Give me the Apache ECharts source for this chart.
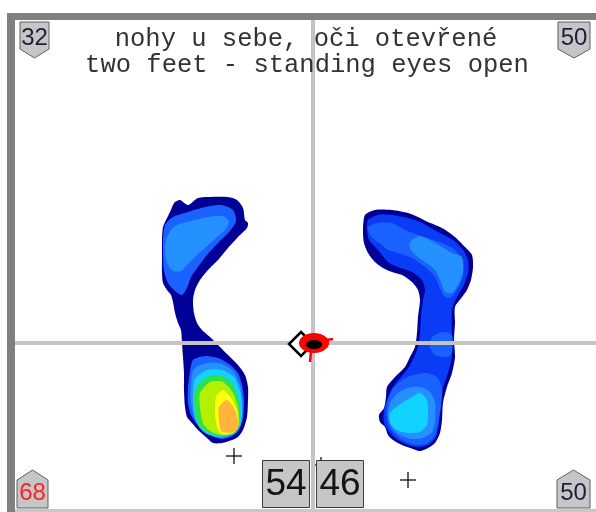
<!DOCTYPE html>
<html>
<head>
<meta charset="utf-8">
<script src="https://cdn.jsdelivr.net/npm/echarts@6/dist/echarts.min.js"></script>
<style>
html,body{margin:0;padding:0;background:#fff;}
#chart{width:596px;height:512px;}
</style>
</head>
<body>
<div id="chart"></div>
<script>
// Plate coordinates: origin at the plate centre, x to the right, y forward.

// Pressure contour levels, low to high
const levelColors = ['#000096', '#0a3cf5', '#1a62ff', '#2590ff', '#12d2ff', '#2ee04a', '#b4f000', '#ffff14', '#ffb43c'];

// Left foot contours
const leftOuter = [[-138,141],[-133,143],[-125,138],[-115,145],[-105,146],[-85,146],[-76,143],[-70,135],[-68,123],[-65,120],[-66,115],[-75,106],[-85,95],[-95,83],[-105,73],[-113,63],[-118,53],[-120,43],[-119,30],[-116,20],[-111,13],[-103,6],[-95,-2],[-85,-12],[-75,-22],[-68,-32],[-65,-44],[-65,-57],[-66,-74],[-70,-87],[-75,-94],[-81,-97],[-91,-100],[-100,-100],[-106,-95],[-115,-87],[-121,-80],[-126,-74],[-128,-64],[-129,-47],[-129,-30],[-130,-14],[-131,0],[-132,13],[-135,20],[-138,30],[-140,41],[-142,48],[-146,53],[-150,60],[-151,70],[-151,86],[-151,103],[-150,116],[-146,125],[-143,131],[-140,138]];
const leftFore3 = [[-148,118],[-140,126],[-125,131],[-108,136],[-92,138],[-80,133],[-77,122],[-83,112],[-95,100],[-106,88],[-115,76],[-122,66],[-126,55],[-131,48],[-138,52],[-145,60],[-149,72],[-150,88],[-150,104]];
const leftFore4 = [[-146,106],[-138,117],[-122,122],[-105,126],[-90,127],[-84,121],[-88,113],[-98,104],[-108,95],[-118,86],[-126,78],[-132,72],[-140,72],[-146,80],[-148,95]];
const leftHeel3 = [[-120,-17],[-108,-13],[-95,-15],[-84,-21],[-75,-30],[-71,-42],[-69,-57],[-70,-75],[-74,-87],[-81,-93],[-91,-96],[-101,-93],[-110,-87],[-117,-80],[-122,-72],[-125,-60],[-125,-44],[-123,-29]];
const leftHeel4 = [[-119,-26],[-106,-20],[-91,-21],[-80,-28],[-73,-42],[-70,-60],[-71,-78],[-77,-90],[-91,-95],[-102,-92],[-111,-86],[-118,-77],[-122,-60],[-122,-41]];
const leftHeel5 = [[-118,-36],[-106,-27],[-91,-27],[-79,-34],[-73,-48],[-71,-66],[-73,-82],[-80,-91],[-94,-94],[-106,-91],[-114,-84],[-119,-70],[-120,-50]];
const leftHeel6 = [[-118,-47],[-106,-34],[-91,-33],[-80,-42],[-74,-58],[-73,-78],[-78,-90],[-93,-93],[-106,-89],[-114,-82],[-118,-67]];
const leftHeel7 = [[-113,-50],[-103,-39],[-90,-39],[-80,-50],[-75,-65],[-74,-82],[-80,-90],[-92,-92],[-103,-88],[-110,-80],[-113,-64]];
const leftHeel8 = [[-97,-54],[-90,-47],[-82,-55],[-76,-68],[-75,-83],[-80,-90],[-91,-91],[-96,-84],[-98,-70]];
const leftHeel9 = [[-94,-64],[-86,-57],[-79,-65],[-75,-78],[-76,-87],[-85,-90],[-92,-88],[-94,-78]];

// Right foot contours
const rightOuter = [[52,128],[62,133],[79,133],[95,130],[105,126],[115,121],[129,115],[142,106],[152,96],[159,88],[160,76],[158,63],[154,53],[149,46],[142,36],[142,20],[141,3],[142,-14],[139,-30],[134,-44],[130,-60],[129,-77],[127,-90],[122,-100],[115,-105],[107,-108],[97,-105],[89,-102],[80,-97],[75,-92],[72,-84],[67,-79],[66,-72],[71,-65],[73,-54],[74,-44],[82,-34],[92,-24],[97,-14],[102,-4],[104,10],[105,26],[107,43],[105,53],[99,61],[89,68],[79,71],[70,75],[62,81],[55,90],[51,100],[50,113]];
const rightFill2 = [[55,123],[65,128],[79,128],[95,125],[109,120],[125,111],[140,103],[150,93],[155,83],[155,70],[150,56],[144,46],[139,33],[139,3],[139,-14],[135,-30],[130,-45],[127,-64],[126,-80],[123,-94],[115,-102],[105,-104],[95,-102],[85,-97],[77,-90],[71,-80],[71,-67],[75,-54],[80,-44],[88,-34],[96,-24],[101,-14],[105,-4],[107,10],[108,26],[110,43],[112,53],[109,63],[99,71],[85,76],[75,81],[65,93],[56,103],[54,113]];
const rightFore3 = [[55,116],[65,120],[79,120],[92,113],[100,110],[114,105],[129,100],[142,93],[150,81],[150,66],[145,55],[139,46],[132,46],[127,55],[122,66],[112,76],[99,85],[85,90],[75,93],[69,98],[62,103],[57,108]];
const rightFore4 = [[97,101],[107,107],[122,100],[139,90],[149,86],[150,71],[145,58],[139,50],[132,51],[128,61],[122,73],[112,81],[102,88],[97,95]];
const rightMid3 = [[119,6],[130,11],[139,8],[139,-9],[135,-14],[122,-12],[117,-4]];
const rightHeel3 = [[79,-47],[89,-37],[100,-32],[114,-30],[125,-35],[129,-47],[128,-64],[125,-80],[122,-92],[115,-100],[105,-102],[95,-100],[85,-94],[78,-87],[74,-77],[74,-62]];
const rightHeel4 = [[77,-60],[85,-50],[95,-45],[107,-44],[117,-49],[122,-60],[122,-77],[119,-89],[110,-95],[99,-96],[87,-92],[79,-85],[75,-74]];
const rightHeel5 = [[77,-70],[89,-60],[99,-54],[107,-50],[114,-57],[115,-70],[114,-82],[107,-89],[95,-90],[84,-87],[77,-80]];

// Contour drawing order: [points, level]
const contourLayers = [
  [leftOuter, 1], [leftFore3, 3], [leftFore4, 4],
  [leftHeel3, 3], [leftHeel4, 4], [leftHeel5, 5], [leftHeel6, 6], [leftHeel7, 7], [leftHeel8, 8], [leftHeel9, 9],
  [rightOuter, 1], [rightFill2, 2], [rightFore3, 3], [rightFore4, 4], [rightMid3, 3],
  [rightHeel3, 3], [rightHeel4, 4], [rightHeel5, 5]
];

// Centres of pressure
const footCentres = [[-79,-113],[95,-137],[8,-122]];
const bodyCentre = [1, 0];
const referenceCentre = [-12, -1];

// Load distribution (%)
const frontLoad = [32, 50];   // left, right forefoot
const rearLoad = [68, 50];    // left, right heel
const sideLoad = [54, 46];    // left, right foot
const rearHighlight = [true, false];

const titleLines = ['nohy u sebe, oči otevřené', 'two feet - standing eyes open'];

const chart = echarts.init(document.getElementById('chart'), null, {renderer: 'canvas'});

const axisStyle = {
  type: 'value',
  axisLine: {show: true, onZero: true, lineStyle: {color: '#c4c4c4', width: 4}},
  axisTick: {show: false},
  axisLabel: {show: false},
  splitLine: {show: false},
  z: 5
};

function badge(x0, x1, down, value, color) {
  const pts = down
    ? [[x0,22],[x1,22],[x1,49],[(x0+x1)/2,58],[x0,49]]
    : [[x0,480],[(x0+x1)/2,470],[x1,480],[x1,508],[x0,508]];
  const cy = down ? 38 : 493;
  return [
    {type: 'polygon', z: 100, shape: {points: pts}, style: {fill: '#c6c6c6', stroke: '#5e5e5e', lineWidth: 1}},
    {type: 'text', z: 101, style: {text: String(value), x: (x0+x1)/2, y: cy, textAlign: 'center', textVerticalAlign: 'middle',
      font: '24px "Liberation Sans", Arial, sans-serif', fill: color}}
  ];
}

function box(x, value) {
  return [
    {type: 'rect', z: 100, shape: {x: x, y: 460.5, width: 47, height: 47}, style: {fill: '#c6c6c6', stroke: '#3a3a3a', lineWidth: 1}},
    {type: 'text', z: 101, style: {text: String(value), x: x + 23.5, y: 485, textAlign: 'center', textVerticalAlign: 'middle',
      font: '37px "Liberation Sans", Arial, sans-serif', fill: '#141414'}}
  ];
}

const graphics = [
  {type: 'rect', z: 100, shape: {x: 7, y: 13, width: 589, height: 7}, style: {fill: '#808080'}},
  {type: 'rect', z: 100, shape: {x: 7, y: 13, width: 8, height: 499}, style: {fill: '#808080'}},
  {type: 'rect', z: 100, shape: {x: 15, y: 509, width: 581, height: 3}, style: {fill: '#c8c8c8'}},
  {type: 'text', z: 101, style: {text: titleLines[0], x: 306, y: 39, textAlign: 'center', textVerticalAlign: 'middle',
    font: '25.5px "Liberation Mono", "Courier New", monospace', fill: '#333333'}},
  {type: 'text', z: 101, style: {text: titleLines[1], x: 307, y: 65, textAlign: 'center', textVerticalAlign: 'middle',
    font: '25.5px "Liberation Mono", "Courier New", monospace', fill: '#333333'}}
]
  .concat(badge(20, 49, true, frontLoad[0], '#1e1e3c'))
  .concat(badge(558, 590, true, frontLoad[1], '#1e1e3c'))
  .concat(badge(17, 48, false, rearLoad[0], rearHighlight[0] ? '#ff2020' : '#1e1e3c'))
  .concat(badge(557, 590, false, rearLoad[1], rearHighlight[1] ? '#ff2020' : '#1e1e3c'))
  .concat(box(262.5, sideLoad[0]))
  .concat(box(316.5, sideLoad[1]));

chart.setOption({
  animation: false,
  backgroundColor: '#ffffff',
  grid: {left: 15, right: 0, top: 20, bottom: 3},
  xAxis: Object.assign({min: -298, max: 283}, axisStyle),
  yAxis: Object.assign({min: -166, max: 323}, axisStyle),
  graphic: graphics,
  series: [
    {
      name: 'contours',
      type: 'custom',
      coordinateSystem: 'cartesian2d',
      silent: true,
      z: 2,
      data: contourLayers.map(l => l[0][0]),
      renderItem: function (params, api) {
        const layer = contourLayers[params.dataIndex];
        return {
          type: 'polygon',
          shape: {points: layer[0].map(p => api.coord(p)), smooth: 0.25},
          style: {fill: levelColors[layer[1] - 1], stroke: null}
        };
      }
    },
    {
      name: 'foot centres',
      type: 'custom',
      coordinateSystem: 'cartesian2d',
      silent: true,
      z: 4,
      data: footCentres,
      renderItem: function (params, api) {
        const c = api.coord([api.value(0), api.value(1)]);
        const h = 8;
        return {
          type: 'group',
          children: [
            {type: 'line', shape: {x1: c[0]-h, y1: c[1], x2: c[0]+h, y2: c[1]}, style: {stroke: '#111', lineWidth: 1.3}},
            {type: 'line', shape: {x1: c[0], y1: c[1]-h, x2: c[0], y2: c[1]+h}, style: {stroke: '#111', lineWidth: 1.3}}
          ]
        };
      }
    },
    {
      name: 'reference centre',
      type: 'custom',
      coordinateSystem: 'cartesian2d',
      silent: true,
      z: 10,
      data: [referenceCentre],
      renderItem: function (params, api) {
        const c = api.coord([api.value(0), api.value(1)]);
        const r = 12;
        return {
          type: 'polygon',
          shape: {points: [[c[0], c[1]-r], [c[0]+r, c[1]], [c[0], c[1]+r], [c[0]-r, c[1]]]},
          style: {fill: '#ffffff', stroke: '#000000', lineWidth: 2.5}
        };
      }
    },
    {
      name: 'body centre',
      type: 'custom',
      coordinateSystem: 'cartesian2d',
      silent: true,
      z: 11,
      data: [bodyCentre],
      renderItem: function (params, api) {
        const c = api.coord([api.value(0), api.value(1)]);
        return {
          type: 'group',
          children: [
            {type: 'ellipse', shape: {cx: c[0], cy: c[1], rx: 15, ry: 10}, style: {fill: '#ff0000'}},
            {type: 'ellipse', shape: {cx: c[0], cy: c[1] + 1.5, rx: 8, ry: 4.5}, style: {fill: '#000000'}},
            {type: 'line', shape: {x1: c[0]-3, y1: c[1]+8, x2: c[0]-4, y2: c[1]+19}, style: {stroke: '#ff0000', lineWidth: 2.5}},
            {type: 'line', shape: {x1: c[0]+12, y1: c[1]-3, x2: c[0]+19, y2: c[1]-4}, style: {stroke: '#ff0000', lineWidth: 2.5}}
          ]
        };
      }
    }
  ]
});
</script>
</body>
</html>
